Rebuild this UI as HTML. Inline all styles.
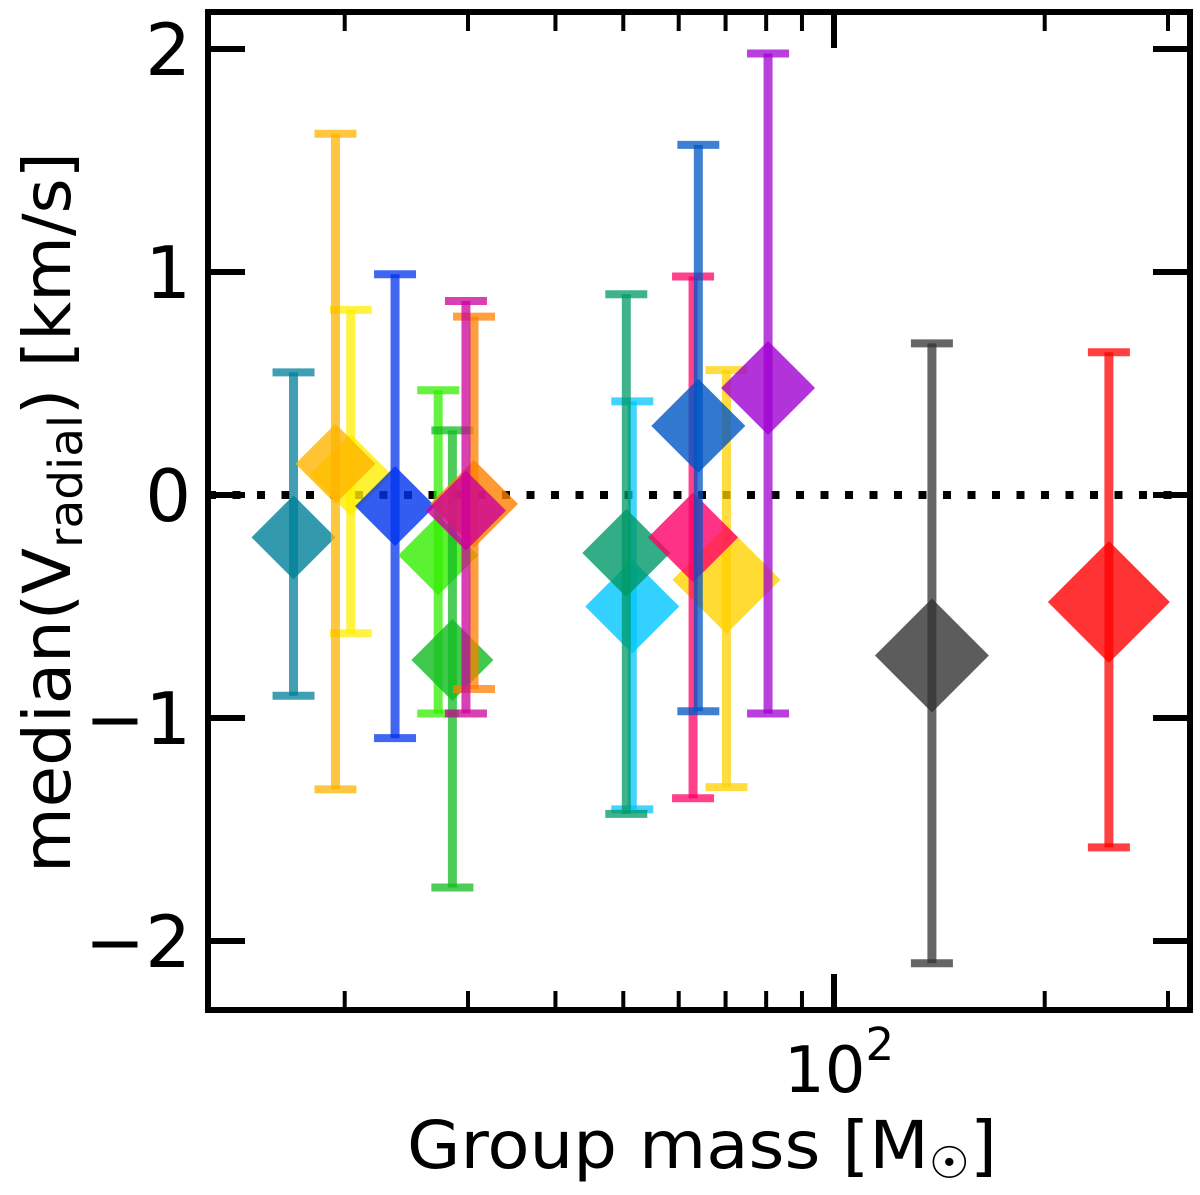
<!DOCTYPE html>
<html><head><meta charset="utf-8"><style>
html,body{margin:0;padding:0;background:#fff;}
svg{display:block;}
text{font-family:"DejaVu Sans","Liberation Sans",sans-serif;fill:#000;}
</style></head><body>
<svg id="chart" width="1200" height="1195" viewBox="0 0 1200 1195" xmlns="http://www.w3.org/2000/svg">
<g id="marks"></g>
<g id="axes"></g>
</svg>
<script>
const groupNames = ["teal","yellow","orange","blue","lime","green","orange2","magenta","cyan","seagreen","gold","pink","blue2","purple","gray","red"];
const groupMass = [16.9, 20.4, 19.4, 23.6, 27.2, 28.5, 30.6, 29.8, 51.5, 50.5, 70.2, 62.9, 64.0, 80.5, 138, 247];
const medianV = [-0.19, 0.09, 0.14, -0.05, -0.27, -0.74, -0.04, -0.07, -0.50, -0.26, -0.38, -0.19, 0.31, 0.48, -0.72, -0.48];
const errUpper = [0.55, 0.83, 1.62, 0.99, 0.47, 0.29, 0.80, 0.87, 0.42, 0.90, 0.56, 0.98, 1.57, 1.98, 0.68, 0.64];
const errLower = [-0.90, -0.62, -1.32, -1.09, -0.98, -1.76, -0.87, -0.98, -1.41, -1.43, -1.31, -1.36, -0.97, -0.98, -2.10, -1.58];
const markerSize = [42, 41, 40, 40, 40, 41, 44, 40, 47, 44, 54, 45, 47, 47, 57, 61];
const colors = ["#007f99","#ffee00","#ffb400","#0033ee","#33ee00","#11bb22","#ff7f00","#cc0099","#00c6ff","#009966","#ffd200","#ff0066","#0056c4","#a000d2","#333333","#ff0000"];
const yTicks = [2, 1, 0, -1, -2];
const yTickLabels = ["2","1","0","\u22121","\u22122"];
const xMinor = [20,30,40,50,60,70,80,90,200,300];

const L=208, R=1190, T=12, B=1010;
const y0=495, yUnit=223;
const x100=834, dec=700;
function xs(m){return x100 + (Math.log10(m)-2)*dec;}
function ys(v){return y0 - v*yUnit;}
const NS="http://www.w3.org/2000/svg";
function mk(tag,attrs,parent){const e=document.createElementNS(NS,tag);for(const k in attrs)e.setAttribute(k,attrs[k]);parent.appendChild(e);return e;}

const marks=document.getElementById('marks');
const axes=document.getElementById('axes');

// zero reference line
const zl=mk('line',{x1:L,x2:R,y1:ys(0),y2:ys(0),stroke:'#000','stroke-width':8,'stroke-dasharray':'8 16.5'},marks);



for(let i=0;i<groupMass.length;i++){
  const g=mk('g',{},marks);
  
  
  const cx=xs(groupMass[i]), cy=ys(medianV[i]), s=markerSize[i], c=colors[i];
  const yt=ys(errUpper[i]), yb=ys(errLower[i]);
  const d=mk('path',{d:`M${cx-s},${cy} L${cx},${cy-s} L${cx+s},${cy} L${cx},${cy+s} Z`,fill:c,'fill-opacity':0.8},g);
  
  
  const ln=mk('line',{x1:cx,x2:cx,y1:yt,y2:yb,stroke:c,'stroke-width':9,'stroke-opacity':0.75},g);
  
  
  const c1=mk('line',{x1:cx-21,x2:cx+21,y1:yt,y2:yt,stroke:c,'stroke-width':8,'stroke-opacity':0.75},g);
  
  
  const c2=mk('line',{x1:cx-21,x2:cx+21,y1:yb,y2:yb,stroke:c,'stroke-width':8,'stroke-opacity':0.75},g);
  
  
}

// frame
const fr=mk('rect',{x:L,y:T,width:R-L,height:B-T,fill:'none',stroke:'#000','stroke-width':6},axes);



// y ticks
for(let i=0;i<yTicks.length;i++){
  const y=ys(yTicks[i]);
  const t1=mk('line',{x1:L,x2:L+37,y1:y,y2:y,stroke:'#000','stroke-width':6},axes);
  
  
  const t2=mk('line',{x1:R-37,x2:R,y1:y,y2:y,stroke:'#000','stroke-width':6},axes);
  
  
  const tx=mk('text',{x:191,y:y+26,'text-anchor':'end','font-size':72},axes);
  tx.textContent=yTickLabels[i];
  
  
}
// x ticks
for(const m of xMinor){
  const x=xs(m);
  const a=mk('line',{x1:x,x2:x,y1:B,y2:B-19,stroke:'#000','stroke-width':4},axes);
  
  
  const b=mk('line',{x1:x,x2:x,y1:T,y2:T+19,stroke:'#000','stroke-width':4},axes);
  
  
}
{
  const x=xs(100);
  const a=mk('line',{x1:x,x2:x,y1:B,y2:B-36,stroke:'#000','stroke-width':6},axes);
  
  
  const b=mk('line',{x1:x,x2:x,y1:T,y2:T+36,stroke:'#000','stroke-width':6},axes);
  
  
  const tx=mk('text',{x:x-50,y:1092,'font-size':64},axes);
  tx.textContent='10';
  
  
  const sp=mk('tspan',{dy:-32,'font-size':45},tx);
  sp.textContent='2';
}
</script>
<svg style="position:absolute;left:0;top:0" width="1200" height="1195">
<text x="407" y="1168" font-size="66" textLength="590" lengthAdjust="spacingAndGlyphs" style="font-family:'DejaVu Sans',sans-serif">Group mass [M<tspan font-size="44" dy="10">☉</tspan><tspan dy="-10">]</tspan></text>
<text transform="translate(70,873) rotate(-90)" x="0" y="0" font-size="66" textLength="721" lengthAdjust="spacingAndGlyphs" style="font-family:'DejaVu Sans',sans-serif">median(V<tspan font-size="46" dy="12">radial</tspan><tspan dy="-12">) [km/s]</tspan></text>
</svg>
</body></html>
